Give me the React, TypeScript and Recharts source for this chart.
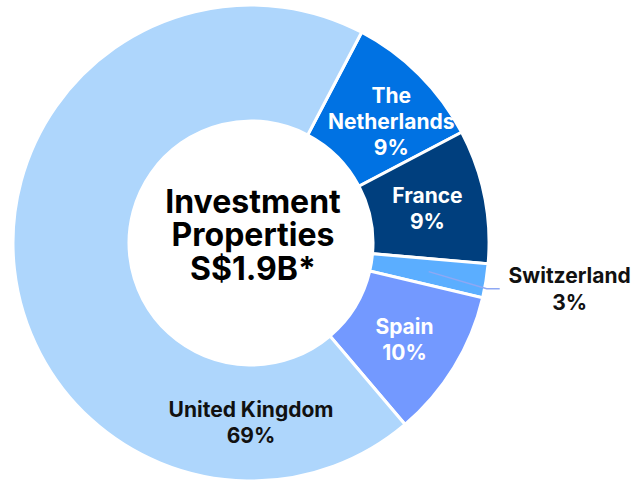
import { PieChart, Pie, Cell } from 'recharts'

// geography split of investment properties (share of value, %)
const countries = ['The Netherlands', 'France', 'Switzerland', 'Spain', 'United Kingdom']
const shares = [9.6, 9.1, 2.3, 10.1, 68.9]
const shareLabels = ['9%', '9%', '3%', '10%', '69%']
const labelLines = [['The', 'Netherlands'], ['France'], ['Switzerland'], ['Spain'], ['United Kingdom']]

const COLORS = ['#0072E3', '#003F7E', '#5BAEFF', '#7399FF', '#AED6FC']
const TEXT_COLORS = ['#fff', '#fff', '#111', '#fff', '#111']
// small hand nudges so labels sit where the original put them
const NUDGE = [[13, 6], [0, 1], [0, 0], [0, 3], [0, 0]]

const data = countries.map((name, i) => ({ name, value: shares[i] }))

const RAD = Math.PI / 180
const FONT = 'Inter, "Noto Sans", sans-serif'
const LINE_H = 26
const labelStyle = { fontFamily: FONT, fontWeight: 700, fontSize: 21 }

function SliceLabel(props: any) {
  const { cx, cy, midAngle, innerRadius, outerRadius, index } = props
  const lines = [...labelLines[index], shareLabels[index]]
  const color = TEXT_COLORS[index]
  const r = (innerRadius + outerRadius) / 2
  // the big UK slice gets its label at the bottom of the ring
  const angle = index === 4 ? -90 : midAngle
  const x = cx + r * Math.cos(angle * RAD) + NUDGE[index][0]
  const y = cy - r * Math.sin(angle * RAD) + NUDGE[index][1]

  if (index === 2) {
    // Switzerland is too thin: leader line out to the right
    const ex = x + 58, ey = y + 17
    const tx = ex + 83
    return (
      <g>
        <polyline points={`${x},${y} ${ex},${ey} ${ex + 13},${ey}`} fill="none" stroke="#8EA8F4" strokeWidth={1.5} />
        {lines.map((t, i) => (
          <text key={i} x={tx} y={ey - 6 + i * 27} textAnchor="middle" fill={color} style={labelStyle}>
            {t}
          </text>
        ))}
      </g>
    )
  }

  const top = y - ((lines.length - 1) * LINE_H) / 2 + 7
  return (
    <g>
      {lines.map((t, i) => (
        <text key={i} x={x} y={top + i * LINE_H} textAnchor="middle" fill={color} style={labelStyle}>
          {t}
        </text>
      ))}
    </g>
  )
}

export default function App() {
  return (
    <div style={{ position: 'absolute', left: 0, top: 0, width: 634, height: 482, background: '#fff' }}>
      <PieChart width={634} height={482} margin={{ top: 0, right: 0, bottom: 0, left: 0 }}>
        {/* title, mostly cut off above the frame */}
        <text x={552} y={-9} textAnchor="end" fill="#000"
          style={{ fontFamily: FONT, fontWeight: 700, fontSize: 40 }}>
          Portfolio by Geography
        </text>
        <Pie
          data={data}
          dataKey="value"
          nameKey="name"
          cx={251} cy={243}
          innerRadius={122} outerRadius={238}
          startAngle={62.3} endAngle={-297.7}
          stroke="#fff" strokeWidth={3}
          label={SliceLabel}
          labelLine={false}
          isAnimationActive={false}
        >
          {data.map((_, i) => (
            <Cell key={i} fill={COLORS[i]} />
          ))}
        </Pie>
        <text x={253} y={213} textAnchor="middle" fill="#000"
          style={{ fontFamily: FONT, fontWeight: 700, fontSize: 32 }}>
          Investment
        </text>
        <text x={253} y={246} textAnchor="middle" fill="#000"
          style={{ fontFamily: FONT, fontWeight: 700, fontSize: 32 }}>
          Properties
        </text>
        <text x={253} y={280} textAnchor="middle" fill="#000"
          style={{ fontFamily: FONT, fontWeight: 700, fontSize: 32 }}>
          S$1.9B*
        </text>
      </PieChart>
    </div>
  )
}
